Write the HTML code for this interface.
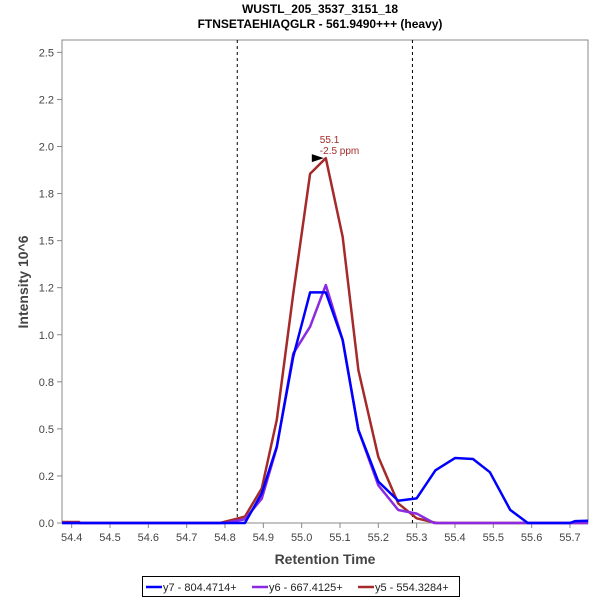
<!DOCTYPE html>
<html><head><meta charset="utf-8"><style>
body{margin:0;background:#fff;font-family:"Liberation Sans",sans-serif}
</style></head><body>
<svg id="c" width="600" height="600" xmlns="http://www.w3.org/2000/svg" font-family="Liberation Sans, sans-serif">
<text x="320" y="13" text-anchor="middle" font-size="12" font-weight="bold" fill="#000">WUSTL_205_3537_3151_18</text>
<text x="320" y="28" text-anchor="middle" font-size="12" font-weight="bold" fill="#000">FTNSETAEHIAQGLR - 561.9490+++ (heavy)</text>
<rect x="62" y="40" width="526" height="483" fill="#fff" stroke="#888"/>
<g id="axes"></g>
<g id="series"></g>
<text x="28" y="282" transform="rotate(-90 28 282)" text-anchor="middle" font-size="14" font-weight="bold" fill="#444">Intensity 10^6</text>
<text x="325" y="564" text-anchor="middle" font-size="14" font-weight="bold" fill="#444">Retention Time</text>
<g>
<rect x="142.5" y="576.5" width="317" height="20" fill="#fff" stroke="#000"/>
<line x1="146" y1="587" x2="162" y2="587" stroke="#0000ff" stroke-width="2.5"/>
<text x="163" y="591" font-size="11" fill="#222">y7 - 804.4714+</text>
<line x1="252" y1="587" x2="268" y2="587" stroke="#8a2be2" stroke-width="2.5"/>
<text x="269" y="591" font-size="11" fill="#222">y6 - 667.4125+</text>
<line x1="358" y1="587" x2="374" y2="587" stroke="#a52a2a" stroke-width="2.5"/>
<text x="375" y="591" font-size="11" fill="#222">y5 - 554.3284+</text>
</g>
</svg>
<script>
const xTicks=[54.4,54.5,54.6,54.7,54.8,54.9,55.0,55.1,55.2,55.3,55.4,55.5,55.6,55.7];
const yTicks=[0,0.25,0.5,0.75,1,1.25,1.5,1.75,2,2.25,2.5];
const yTickLabels=["0.0","0.2","0.5","0.8","1.0","1.2","1.5","1.8","2.0","2.2","2.5"];
const boundaries=[54.832,55.289];
const y7T=[54.375,54.852,54.896,54.935,54.978,55.022,55.063,55.107,55.148,55.2,55.252,55.3,55.349,55.4,55.447,55.491,55.544,55.59,55.7,55.713,55.747];
const y7V=[0,0,0.158,0.405,0.883,1.225,1.225,0.972,0.494,0.22,0.118,0.131,0.28,0.345,0.34,0.27,0.07,0,0,0.01,0.012];
const y6T=[54.375,54.8,54.826,54.852,54.896,54.935,54.978,55.022,55.063,55.107,55.148,55.2,55.252,55.3,55.345,55.747];
const y6V=[0,0,0.01,0.02,0.13,0.4,0.9,1.043,1.264,0.972,0.494,0.2,0.069,0.05,0,0];
const y5T=[54.375,54.42,54.421,54.787,54.826,54.852,54.896,54.935,54.978,55.022,55.063,55.107,55.148,55.2,55.252,55.3,55.352,55.747];
const y5V=[0.005,0.005,0,0,0.02,0.034,0.184,0.547,1.217,1.855,1.938,1.52,0.812,0.351,0.104,0.025,0,0];
const peakLabel=["55.1","-2.5 ppm"];
const peakT=55.063, peakV=1.938;

const NS="http://www.w3.org/2000/svg";
const X=t=>225+(t-54.8)*3833/10;
const Y=v=>523-v*188.25;
function mk(tag,attrs,parent){const e=document.createElementNS(NS,tag);for(const k in attrs)e.setAttribute(k,attrs[k]);parent.appendChild(e);return e;}
const ax=document.getElementById('axes'), sg=document.getElementById('series');
xTicks.forEach(t=>{
  const l=mk('line',{x1:X(t),x2:X(t),y1:523,y2:528,stroke:'#888'},ax);
  
  
  const tx=mk('text',{x:X(t),y:541,'text-anchor':'middle','font-size':11,fill:'#444'},ax);
  tx.textContent=t.toFixed(1);
  
  
});
yTicks.forEach((v,i)=>{
  const l=mk('line',{x1:57,x2:62,y1:Y(v),y2:Y(v),stroke:'#888'},ax);
  
  
  const tx=mk('text',{x:54,y:Y(v)+4,'text-anchor':'end','font-size':11,fill:'#444'},ax);
  tx.textContent=yTickLabels[i];
  
  
});
boundaries.forEach(t=>{
  const l=mk('line',{x1:X(t),x2:X(t),y1:40,y2:523,stroke:'#000','stroke-dasharray':'3,3','stroke-width':1},sg);
  
  
});
function series(T,V,color,name){
  const p=mk('polyline',{points:T.map((t,i)=>X(t)+','+Y(V[i])).join(' '),fill:'none',stroke:color,'stroke-width':2.5,'stroke-linejoin':'round'},sg);
  
  
}
series(y5T,y5V,'#a52a2a','series-y5');
series(y6T,y6V,'#8a2be2','series-y6');
series(y7T,y7V,'#0000ff','series-y7');
const px=X(peakT),py=Y(peakV);
const ar=mk('polygon',{points:`${px-2},${py} ${px-14},${py-4} ${px-14},${py+4}`,fill:'#000'},sg);


peakLabel.forEach((s,i)=>{
  const tx=mk('text',{x:px-6,y:py-15+i*11,'font-size':10,fill:'#a52a2a'},sg);
  tx.textContent=s;
  
  
});
</script>
</body></html>
